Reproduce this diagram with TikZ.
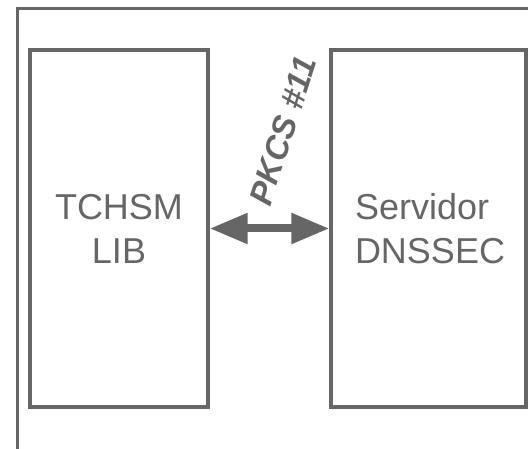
\documentclass[tikz,border=0pt]{standalone}
\usepackage{fontspec}
\setmainfont{Liberation Sans}
\usetikzlibrary{arrows.meta}
\definecolor{dgray}{RGB}{102,102,102}
\begin{document}
\begin{tikzpicture}[x=1pt,y=-1pt,
  box/.style={draw=dgray, line width=3.2pt, minimum height=357pt, inner sep=0pt,
    text=dgray, font=\fontsize{36}{44}\selectfont},
  frame/.style={draw=dgray, line width=3pt},
  link/.style={draw=dgray, line width=8pt,
    {Triangle[length=38pt,width=29pt]}-{Triangle[length=38pt,width=29pt]}},
  lbl/.style={text=dgray, font=\fontsize{33}{38}\selectfont\bfseries\itshape}]
\useasboundingbox (0,0) rectangle (528,449);
\clip (0,0) rectangle (528,449);
\draw[frame] (17,470) |- (560,9);
\node[box, minimum width=178pt, align=center] (lib) at (119,228.5) {TCHSM\\LIB};
\node[box, minimum width=195pt, text width=147pt, align=left] (srv) at (428.5,228.5) {Servidor\\DNSSEC};
\draw[link] (lib.east) -- (srv.west);
\node[lbl, rotate=72] (pk) at (283,131) {PKCS \#11};
\end{tikzpicture}
\end{document}
